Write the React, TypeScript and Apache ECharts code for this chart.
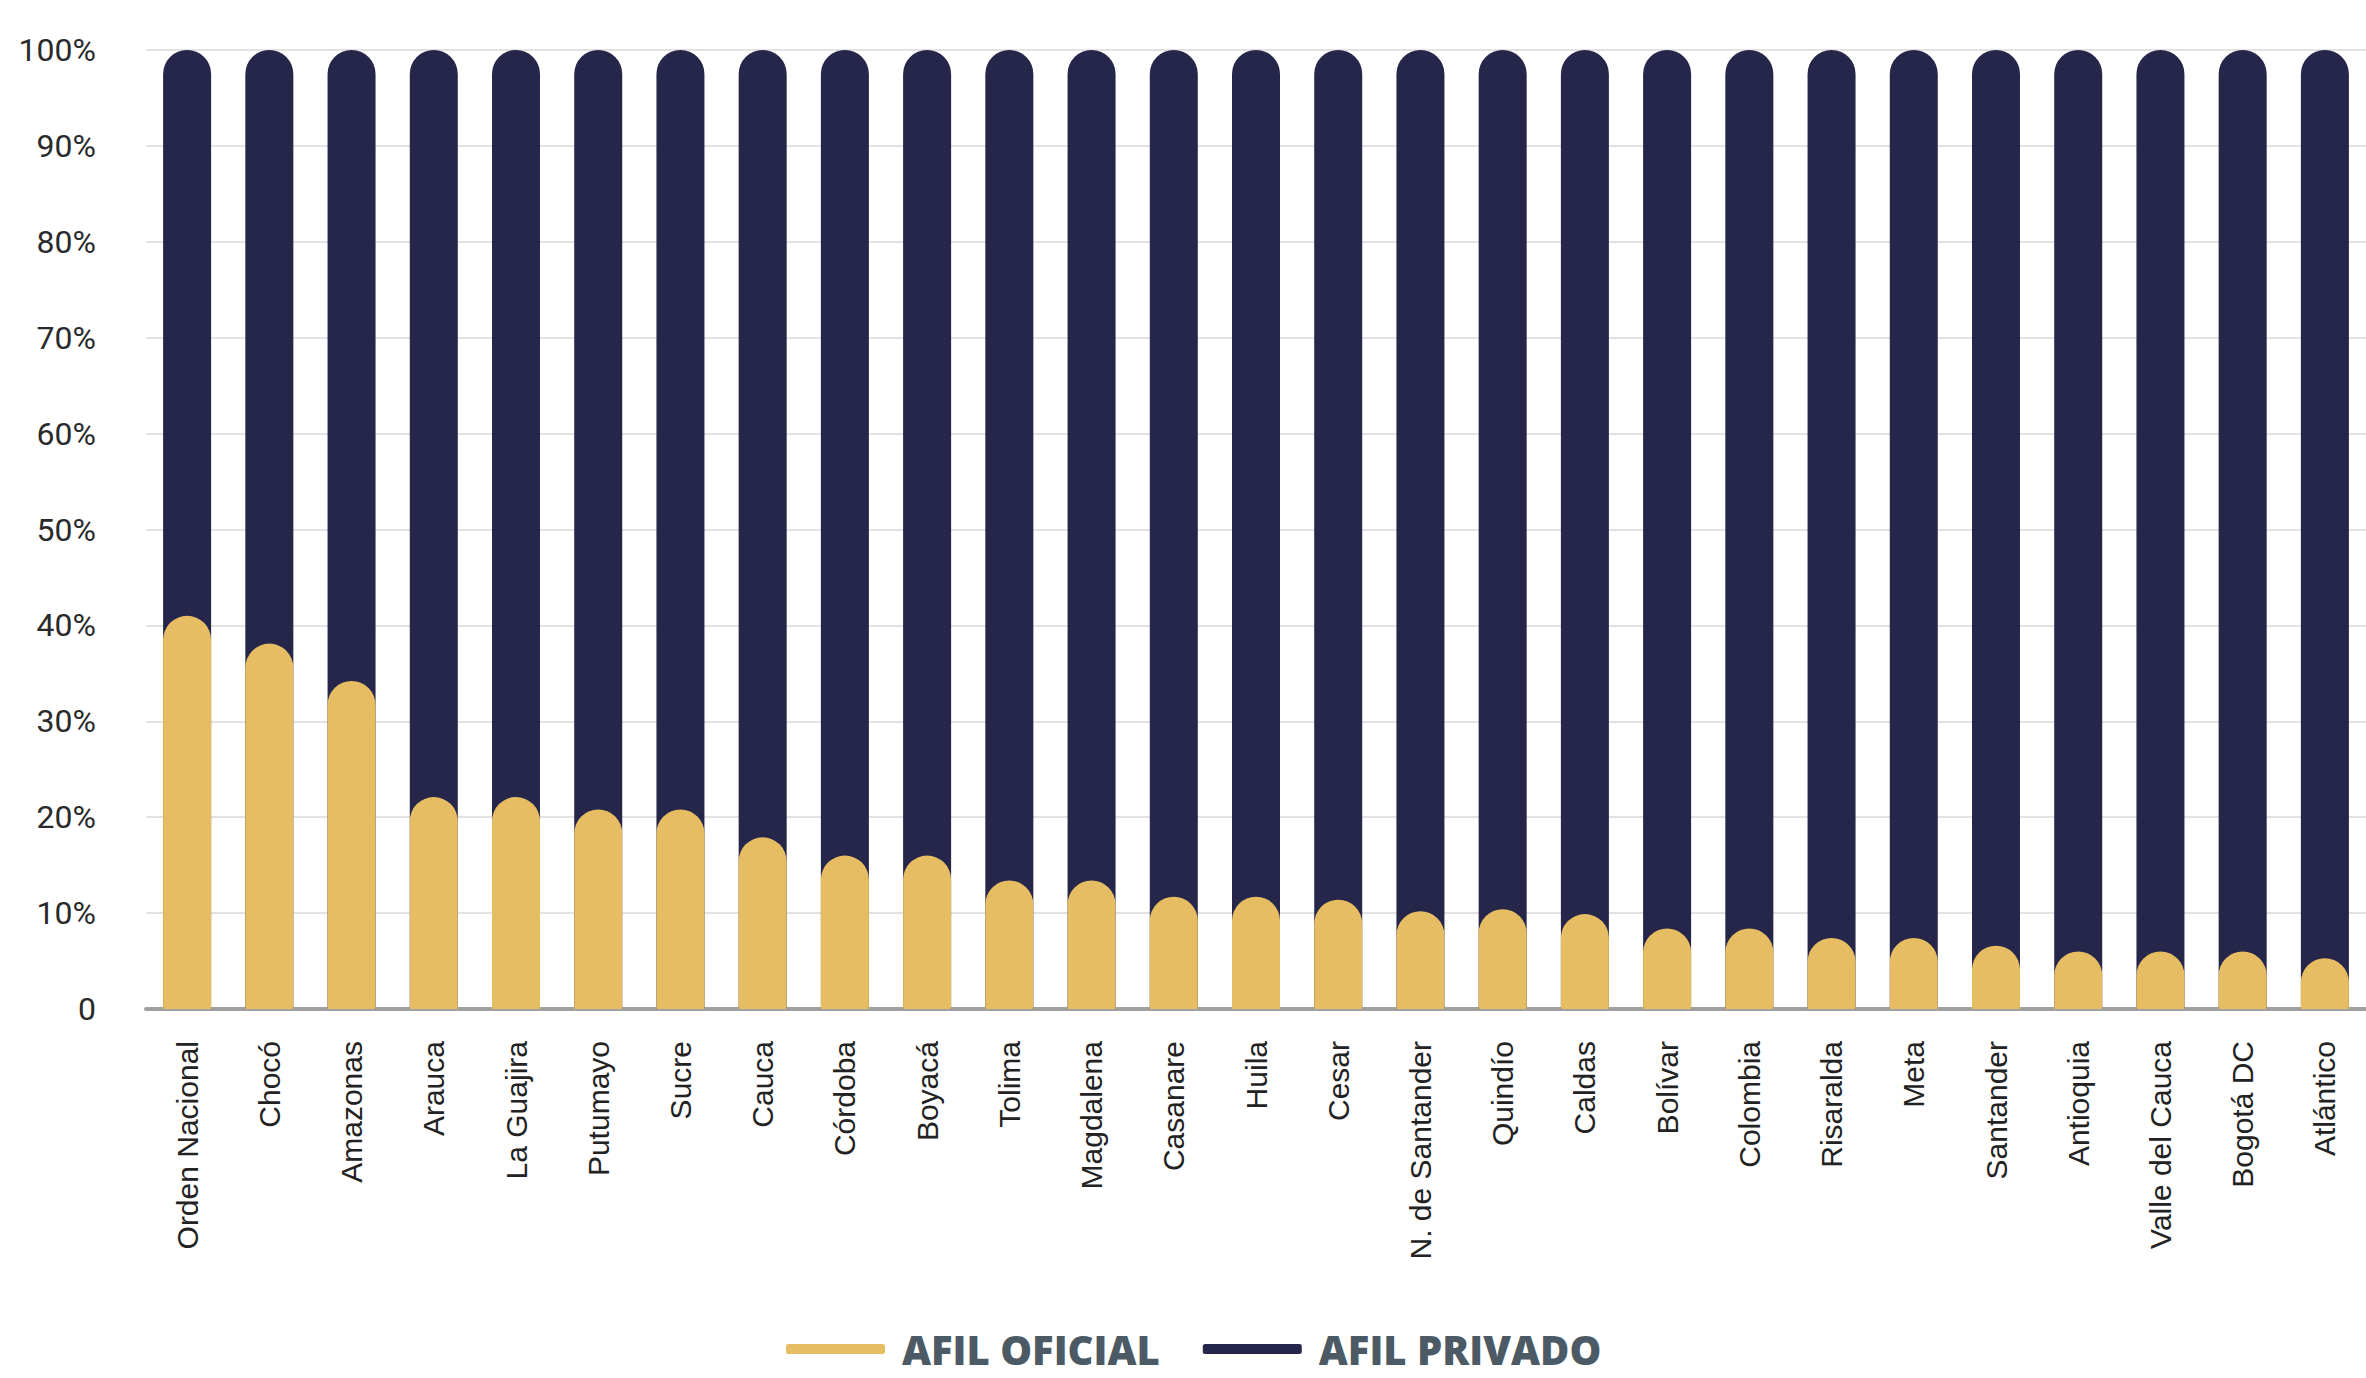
import React, { useEffect, useRef } from "react";
import * as echarts from "echarts";

const categories = [
  "Orden Nacional", "Chocó", "Amazonas", "Arauca", "La Guajira", "Putumayo", "Sucre",
  "Cauca", "Córdoba", "Boyacá", "Tolima", "Magdalena", "Casanare", "Huila", "Cesar",
  "N. de Santander", "Quindío", "Caldas", "Bolívar", "Colombia", "Risaralda", "Meta",
  "Santander", "Antioquia", "Valle del Cauca", "Bogotá DC", "Atlántico",
];

const afilOficial = [
  41.0, 38.1, 34.2, 22.1, 22.1, 20.8, 20.8, 17.9, 16.0, 16.0, 13.4, 13.4, 11.7, 11.7,
  11.4, 10.2, 10.4, 9.9, 8.4, 8.4, 7.4, 7.4, 6.6, 6.0, 6.0, 6.0, 5.3,
];

const afilPrivado = [
  59.0, 61.9, 65.8, 77.9, 77.9, 79.2, 79.2, 82.1, 84.0, 84.0, 86.6, 86.6, 88.3, 88.3,
  88.6, 89.8, 89.6, 90.1, 91.6, 91.6, 92.6, 92.6, 93.4, 94.0, 94.0, 94.0, 94.7,
];

const yTicks = [0, 10, 20, 30, 40, 50, 60, 70, 80, 90, 100];
const seriesNames = ["AFIL OFICIAL", "AFIL PRIVADO"];

const YELLOW = "#E6BD63";
const NAVY = "#25264A";

export default function App() {
  const ref = useRef<HTMLDivElement>(null);

  useEffect(() => {
    document.body.style.margin = "0";
    if (!ref.current) return;
    const chart = echarts.init(ref.current, undefined, { renderer: "svg" });
    const totals = afilOficial.map((v, i) => v + afilPrivado[i]);
    chart.setOption({
      animation: false,
      backgroundColor: "#ffffff",
      grid: { left: 146, right: -5, top: 50, bottom: 369, containLabel: false },
      legend: {
        data: seriesNames,
        left: 786,
        top: 1328,
        padding: 0,
        itemWidth: 99,
        itemHeight: 10,
        itemGap: 43,
        icon: "roundRect",
        textStyle: {
          fontFamily: "Open Sans",
          fontWeight: 800,
          fontSize: 40,
          lineHeight: 42,
          color: "#4B5A64",
          padding: [0, 0, 0, 12],
        },
      },
      xAxis: {
        type: "category",
        data: categories,
        axisLine: { show: true, lineStyle: { color: "#A0A0A0", width: 4 } },
        axisTick: { show: false },
        axisLabel: {
          rotate: 90,
          interval: 0,
          margin: 32,
          fontFamily: "Liberation Sans",
          fontSize: 30,
          color: "#222222",
        },
      },
      yAxis: {
        type: "value",
        min: 0,
        max: 100,
        interval: 10,
        axisLine: { show: false },
        axisTick: { show: false },
        splitLine: { lineStyle: { color: "#E2E2E2", width: 2 } },
        axisLabel: {
          margin: 50,
          fontFamily: "Roboto",
          fontSize: 32,
          color: "#2A2A2A",
          formatter: (v: number) => (yTicks.includes(v) ? (v === 0 ? "0" : v + "%") : ""),
        },
      },
      series: [
        {
          name: seriesNames[0],
          type: "bar",
          data: afilOficial,
          barWidth: 48,
          barGap: "-100%",
          z: 4,
          itemStyle: { color: YELLOW, borderRadius: [24, 24, 0, 0] },
        },
        {
          name: seriesNames[1],
          type: "bar",
          data: totals,
          barWidth: 48,
          barGap: "-100%",
          z: 2,
          itemStyle: { color: NAVY, borderRadius: [24, 24, 0, 0] },
        },
      ],
    });
    return () => chart.dispose();
  }, []);

  return <div ref={ref} style={{ width: 2366, height: 1378 }} />;
}
